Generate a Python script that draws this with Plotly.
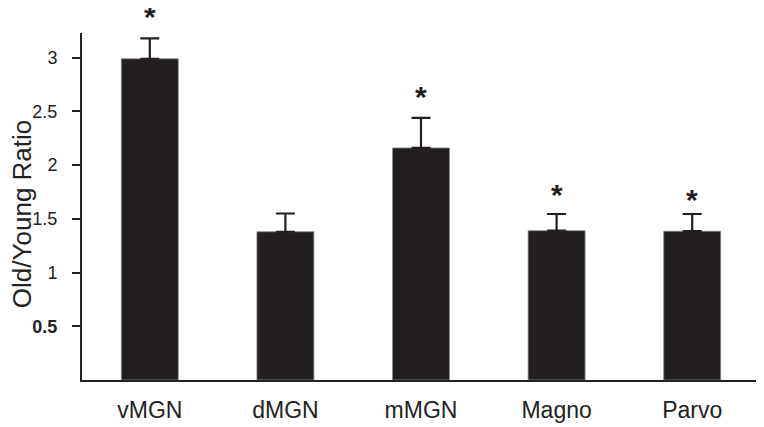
import plotly.graph_objects as go

categories = ["vMGN", "dMGN", "mMGN", "Magno", "Parvo"]
ratio = [2.99, 1.38, 2.16, 1.39, 1.385]
err_up = [0.19, 0.17, 0.28, 0.155, 0.16]
significant = [True, False, True, True, True]
tick_vals = [0.5, 1, 1.5, 2, 2.5, 3]
tick_text = ["<b>0.5</b>", "1", "1.5", "2", "2.5", "3"]

FONT = "Liberation Sans, Arial, sans-serif"
BAR = "#231f20"

fig = go.Figure()
fig.add_trace(go.Bar(
    x=categories, y=ratio, width=0.42,
    marker=dict(color=BAR, line=dict(color="#8a8a8a", width=0.8)),
    error_y=dict(type="data", symmetric=False, array=err_up,
                 arrayminus=[0] * len(err_up),
                 color=BAR, thickness=2.2, width=9.5),
))

star_shift = [4, 0, 4, 2, -3]
for c, v, e, s, sh in zip(categories, ratio, err_up, significant, star_shift):
    if s:
        fig.add_annotation(x=c, y=v + e, xref="x", yref="y", text="<b>*</b>",
                           showarrow=False, yanchor="bottom", yshift=sh,
                           borderpad=0,
                           font=dict(family=FONT, size=30, color=BAR))

fig.add_annotation(text="Old/Young Ratio", xref="paper", yref="paper",
                   x=0, y=0.478, xanchor="center", yanchor="middle",
                   xshift=-60, textangle=-90, showarrow=False, borderpad=0,
                   font=dict(family=FONT, size=26, color="#222"))

# page body adds an 8px offset; figure sized to fill the remaining window
fig.update_layout(
    width=756, height=419,
    margin=dict(l=74, r=4, t=25, b=47, autoexpand=False),
    paper_bgcolor="white", plot_bgcolor="white",
    showlegend=False,
    font=dict(family=FONT, color="#222"),
    xaxis=dict(range=[-0.5, 4.5], showline=True, linecolor="#222", linewidth=2,
               ticks="", showgrid=False, zeroline=False, automargin=False,
               tickfont=dict(family=FONT, size=23, color="#222"),
               ticklabelstandoff=8),
    yaxis=dict(range=[0, 3.23], showline=True, linecolor="#222", linewidth=2,
               ticks="outside", ticklen=8, tickwidth=1.6, tickcolor="#222",
               tickvals=tick_vals, ticktext=tick_text, showgrid=False,
               automargin=False,
               zeroline=False, tickfont=dict(family=FONT, size=18, color="#222"),
               ticklabelstandoff=11),
)

fig.write_html("out.html")
